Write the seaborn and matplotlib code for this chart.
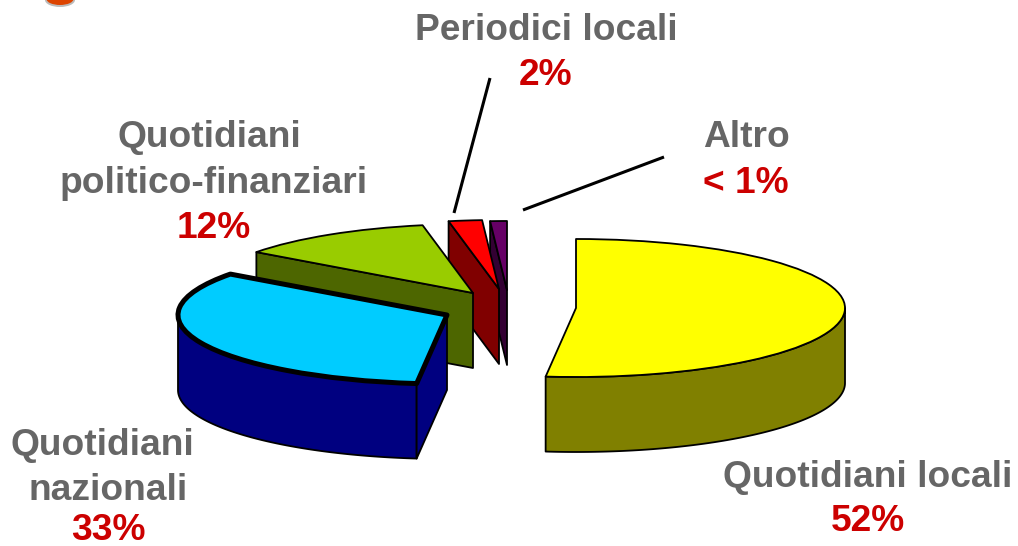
import numpy as np
import matplotlib
matplotlib.use("Agg")
import matplotlib.pyplot as plt
from matplotlib.patches import Ellipse
import seaborn as sns

sns.set_theme(style="white")
plt.rcParams['font.family'] = ['Liberation Sans', 'DejaVu Sans']

categories = ["Quotidiani locali", "Quotidiani nazionali", "Quotidiani politico-finanziari",
              "Periodici locali", "Altro"]
shares = [51.8, 33.3, 11.9, 2.0, 1.0]
share_labels = ["52%", "33%", "12%", "2%", "< 1%"]
top_colors = ["#FFFF00", "#00CCFF", "#99CC00", "#FF0000", "#660066"]
wall_colors = ["#808000", "#000080", "#4D6600", "#800000", "#330033"]

W, H = 1018, 546
RX, RY, DEPTH = 269.0, 69.0, 75.0
centers_px = [(576, 308), (447, 315), (473, 293), (499, 289), (507, 290)]
edge_w = [1.3, 3.6, 1.3, 1.3, 1.3]


def U(x):
    return x / RX


def V(y):
    return -y / RY


fig = plt.figure(figsize=(W / 100, H / 100), dpi=100, facecolor="white")
ax = fig.add_axes([0, 0, 1, 1])
wedges, _ = ax.pie(shares, startangle=90, counterclock=False, radius=1, colors=top_colors,
                   wedgeprops=dict(edgecolor="black", linewidth=1.3))
ax.set_aspect("auto")
ax.set_xlim(0, U(W))
ax.set_ylim(V(H), 0)
ax.set_axis_off()

d = DEPTH / RY
for i, w in enumerate(wedges):
    cx, cy = U(centers_px[i][0]), V(centers_px[i][1])
    w.set_center((cx, cy))
    z = 10 - i
    w.set_zorder(z + 0.5)
    w.set_linewidth(edge_w[i])
    w.set_joinstyle("round")
    t1, t2 = w.theta1, w.theta2
    wall = dict(facecolor=wall_colors[i], edgecolor="black", linewidth=1.3, zorder=z, joinstyle="round")
    # outer curved wall: the part of the rim facing the viewer
    lo, hi = max(t1, -180), min(t2, 0)
    if hi > lo:
        th = np.radians(np.linspace(lo, hi, 120))
        xs, ys = cx + np.cos(th), cy + np.sin(th)
        ax.fill(np.r_[xs, xs[::-1]], np.r_[ys, ys[::-1] - d], **wall)
    # flat cut faces that face the viewer
    for t, visible in ((t2, np.cos(np.radians(t2)) < -1e-6), (t1, np.cos(np.radians(t1)) > 1e-6)):
        if visible:
            ex, ey = cx + np.cos(np.radians(t)), cy + np.sin(np.radians(t))
            ax.fill([cx, ex, ex, cx], [cy, ey, ey - d, cy - d], **wall)

GREY = "#666666"
RED = "#CC0000"
FS = 26.7
label_rows = [
    (["Quotidiani locali"], 868, [477], 521, 0),
    (["Quotidiani", "nazionali"], 108, [445, 490], 530, 1),
    (["Quotidiani", "politico-finanziari"], 214, [137, 183], 228, 2),
    (["Periodici locali"], 546, [30], 75, 3),
    (["Altro"], 746, [137], 183, 4),
]
x_over = {"Quotidiani": {1: 102, 2: 209}}
for lines, x, ys, yv, i in label_rows:
    for s, y in zip(lines, ys):
        xx = x_over.get(s, {}).get(i, x)
        ax.text(U(xx), V(y), s, color=GREY, fontsize=FS, fontweight="bold",
                ha="center", va="center", zorder=20)
    ax.text(U(x), V(yv), share_labels[i], color=RED, fontsize=FS, fontweight="bold",
            ha="center", va="center", zorder=20)

ax.plot([U(490), U(454)], [V(78), V(213)], color="black", lw=2.2, zorder=20, solid_capstyle="butt")
ax.plot([U(664), U(523)], [V(157), V(210)], color="black", lw=2.2, zorder=20, solid_capstyle="butt")

ax.add_patch(Ellipse((U(60), V(0)), U(30), -V(14), facecolor="#BBBBBB", edgecolor="none", zorder=1))
ax.add_patch(Ellipse((U(60), V(-1)), U(27), -V(12), facecolor="#DD4400", edgecolor="none", zorder=2))

fig.savefig("out.png", dpi=100, facecolor="white")
